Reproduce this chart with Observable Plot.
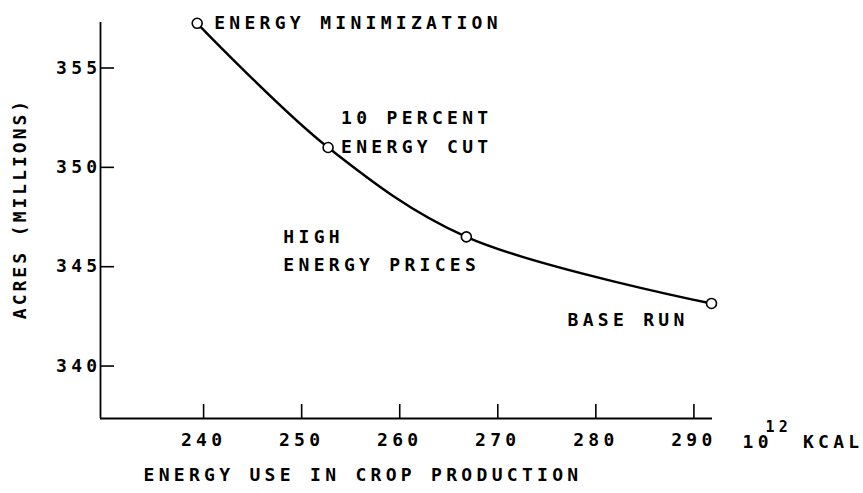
<!DOCTYPE html>
<html>
<head>
<meta charset="utf-8">
<script src="https://cdn.jsdelivr.net/npm/d3@7"></script>
<script src="https://cdn.jsdelivr.net/npm/@observablehq/plot@0.6"></script>
<style>
  html, body { margin: 0; padding: 0; background: #fff; }
  svg text { letter-spacing: 4.3px; }
  svg text[transform*="rotate"] { letter-spacing: 3px; }
</style>
</head>
<body>
<div id="chart"></div>
<script>
// Data
const scenarios = ["ENERGY MINIMIZATION", "10 PERCENT\nENERGY CUT", "HIGH\nENERGY PRICES", "BASE RUN"];
const energyUse = [239.55, 252.9, 267.0, 292.0];   // 10^12 kcal
const acres = [357.25, 351.0, 346.5, 343.15];      // millions of acres

const xTicks = [240, 250, 260, 270, 280, 290];
const yTicks = [340, 345, 350, 355];

const xTitle = "ENERGY USE IN CROP PRODUCTION";
const yTitle = "ACRES (MILLIONS)";
const unitBase = "10";
const unitExp = "12";
const unitName = "KCAL";

const data = scenarios.map((s, i) => ({scenario: s, x: energyUse[i], y: acres[i]}));

const FONT = '"DejaVu Sans Mono", "Liberation Mono", monospace';

const chart = Plot.plot({
  width: 863,
  height: 493,
  marginTop: 22,
  marginLeft: 100,
  marginRight: 151,
  marginBottom: 75,
  style: {fontFamily: FONT, fontSize: "18px", fontWeight: "bold", color: "black", background: "white"},
  x: {domain: [229.69, 292.1]},
  y: {domain: [337.36, 357.29]},
  marks: [
    Plot.ruleX([229.69], {stroke: "black", strokeWidth: 1.8}),
    Plot.ruleY([337.36], {stroke: "black", strokeWidth: 1.8}),
    Plot.axisX({ticks: xTicks, tickSize: -14, tickPadding: 29, strokeWidth: 1.6, tickFormat: d => String(d), label: null, fontWeight: "bold", dx: 2}),
    Plot.axisY({ticks: yTicks, tickSize: -14, tickPadding: 13, strokeWidth: 1.6, tickFormat: d => String(d), label: null, fontWeight: "bold"}),
    Plot.line(data, {x: "x", y: "y", curve: "catmull-rom", stroke: "black", strokeWidth: 2.4}),
    Plot.dot(data, {x: "x", y: "y", r: 5, fill: "white", stroke: "black", strokeWidth: 1.6}),
    Plot.text([data[0]], {x: "x", y: "y", text: "scenario", textAnchor: "start", lineAnchor: "middle", dx: 17, dy: 0, fontWeight: "bold"}),
    Plot.text([data[1]], {x: "x", y: "y", text: "scenario", textAnchor: "start", lineAnchor: "bottom", lineHeight: 1.66, dx: 13, dy: 6, fontWeight: "bold"}),
    Plot.text([data[2]], {x: "x", y: "y", text: "scenario", textAnchor: "start", lineAnchor: "bottom", lineHeight: 1.56, dx: -183, dy: 34, fontWeight: "bold"}),
    Plot.text([data[3]], {x: "x", y: "y", text: "scenario", textAnchor: "start", lineAnchor: "bottom", dx: -144, dy: 23, fontWeight: "bold"}),
    Plot.text([xTitle], {frameAnchor: "bottom-left", text: d => d, textAnchor: "start", lineAnchor: "bottom", dx: 43, dy: 62, fontWeight: "bold"}),
    Plot.text([yTitle], {frameAnchor: "left", text: d => d, rotate: -90, textAnchor: "middle", lineAnchor: "middle", dx: -80, dy: -12, fontWeight: "bold"}),
    Plot.text([unitBase], {frameAnchor: "bottom-right", text: d => d, textAnchor: "start", lineAnchor: "bottom", dx: 30, dy: 29, fontWeight: "bold"}),
    Plot.text([unitExp], {frameAnchor: "bottom-right", text: d => d, textAnchor: "start", lineAnchor: "bottom", dx: 53, dy: 13, fontSize: 15, fontWeight: "bold"}),
    Plot.text([unitName], {frameAnchor: "bottom-right", text: d => d, textAnchor: "end", lineAnchor: "bottom", dx: 151, dy: 29, fontWeight: "bold"})
  ]
});
document.getElementById("chart").appendChild(chart);
</script>
</body>
</html>
